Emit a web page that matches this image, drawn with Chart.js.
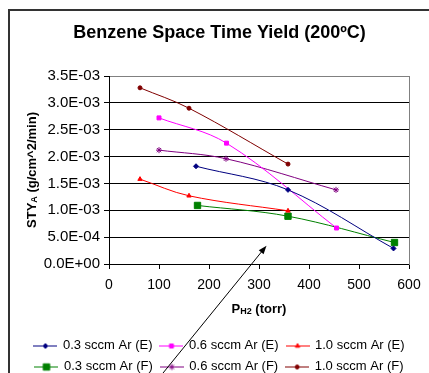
<!DOCTYPE html>
<html>
<head>
<meta charset="utf-8">
<script src="https://cdn.jsdelivr.net/npm/chart.js@4.4.0/dist/chart.umd.min.js"></script>
<style>
  html, body { margin: 0; padding: 0; background: #fff; overflow: hidden; }
</style>
</head>
<body>
<canvas id="chart" width="429" height="373"></canvas>
<script>
// Series labels (legend order)
const seriesLabels = [
    "0.3 sccm Ar (E)", "0.6 sccm Ar (E)", "1.0 sccm Ar (E)",
    "0.3 sccm Ar (F)", "0.6 sccm Ar (F)", "1.0 sccm Ar (F)"
];

// H2 pressure (torr) and space time yield (g/cm^2/min) for each series
const ph2_03E = [174, 358, 569];
const sty_03E = [0.00182, 0.00138, 0.00029];
const ph2_06E = [100, 235, 455];
const sty_06E = [0.00272, 0.00225, 0.00067];
const ph2_10E = [62, 160, 358];
const sty_10E = [0.00158, 0.00127, 0.00099];
const ph2_03F = [177, 358, 571];
const sty_03F = [0.00109, 0.00089, 0.00040];
const ph2_06F = [100, 234, 454];
const sty_06F = [0.00212, 0.00196, 0.00138];
const ph2_10F = [62, 160, 358];
const sty_10F = [0.00328, 0.00290, 0.00186];

// Tick values
const xTicks = [0, 100, 200, 300, 400, 500, 600];
const yTicks = [0, 0.0005, 0.001, 0.0015, 0.002, 0.0025, 0.003, 0.0035];

// Annotation arrow (data units: torr, STY)
const arrowFrom = [108, -0.00203];
const arrowTo = [315, 0.00034];

const FONT = "'Liberation Sans', Arial, sans-serif";

const styles = [
    { color: "#000080", point: "rectRot", radius: 2.5 },
    { color: "#FF00FF", point: "rect", radius: 2.8 },
    { color: "#FF0000", point: "triangle", radius: 2.5 },
    { color: "#008000", point: "rect", radius: 4.5 },
    { color: "#800080", point: "star", radius: 3 },
    { color: "#800000", point: "circle", radius: 2 }
];

const seriesX = [ph2_03E, ph2_06E, ph2_10E, ph2_03F, ph2_06F, ph2_10F];
const seriesY = [sty_03E, sty_06E, sty_10E, sty_03F, sty_06F, sty_10F];

function toPoints(xs, ys) {
    return xs.map((x, i) => ({ x: x, y: ys[i] }));
}

// Excel-like exponent label, e.g. 3.5E-03
function expLabel(v) {
    const parts = Number(v).toExponential(1).split("e");
    const exp = parseInt(parts[1], 10);
    const sign = exp < 0 ? "-" : "+";
    const digits = String(Math.abs(exp)).padStart(2, "0");
    return parts[0] + "E" + sign + digits;
}

// Small line + marker icons for the legend
function legendIcon(style) {
    const c = document.createElement("canvas");
    c.width = 24;
    c.height = 12;
    const g = c.getContext("2d");
    g.strokeStyle = style.color;
    g.fillStyle = style.color;
    g.lineWidth = 1;
    g.beginPath();
    g.moveTo(0, 6.5);
    g.lineTo(24, 6.5);
    g.stroke();
    Chart.helpers.drawPoint(g, {
        pointStyle: style.point,
        radius: style.radius,
        rotation: 0,
        borderWidth: 1
    }, 12, 6.5);
    return c;
}
const legendIcons = styles.map(legendIcon);

const datasets = seriesLabels.map((label, i) => ({
    label: label,
    data: toPoints(seriesX[i], seriesY[i]),
    borderColor: styles[i].color,
    backgroundColor: styles[i].color,
    borderWidth: 1,
    pointStyle: styles[i].point,
    pointRadius: styles[i].radius,
    pointBorderWidth: 1,
    tension: 0.35,
    fill: false
}));

// Outer frame and white background
const framePlugin = {
    id: "frame",
    beforeDraw(chart) {
        const ctx = chart.ctx;
        ctx.save();
        ctx.fillStyle = "#fff";
        ctx.fillRect(0, 0, chart.width, chart.height);
        ctx.strokeStyle = "#333";
        ctx.lineWidth = 2;
        ctx.beginPath();
        ctx.moveTo(9, chart.height + 5);
        ctx.lineTo(9, 10);
        ctx.lineTo(chart.width + 5, 10);
        ctx.stroke();
        ctx.restore();
    }
};

// Draw a run of text parts with different sizes along one baseline
function drawParts(ctx, parts, cx, baseline) {
    let total = 0;
    parts.forEach(p => {
        ctx.font = "bold " + p.size + "px " + FONT;
        p.w = ctx.measureText(p.text).width;
        total += p.w;
    });
    let x = cx - total / 2;
    parts.forEach(p => {
        ctx.font = "bold " + p.size + "px " + FONT;
        ctx.fillText(p.text, x, baseline + (p.sub ? 1 : 0));
        x += p.w;
    });
}

// Axis titles with subscripts, and the annotation arrow
const annotationPlugin = {
    id: "annotations",
    afterDraw(chart) {
        const ctx = chart.ctx;
        const area = chart.chartArea;
        const xs = chart.scales.x;
        const ys = chart.scales.y;
        ctx.save();
        ctx.fillStyle = "#000";
        ctx.textAlign = "left";
        ctx.textBaseline = "alphabetic";

        drawParts(ctx, [
            { text: "P", size: 13 },
            { text: "H2", size: 9, sub: true },
            { text: " (torr)", size: 13 }
        ], (area.left + area.right) / 2, 313);

        ctx.translate(36, (area.top + area.bottom) / 2);
        ctx.rotate(-Math.PI / 2);
        drawParts(ctx, [
            { text: "STY", size: 13 },
            { text: "A", size: 9, sub: true },
            { text: " (g/cm^2/min)", size: 13 }
        ], 0, 0);
        ctx.restore();

        // arrow
        const x0 = xs.getPixelForValue(arrowFrom[0]);
        const y0 = ys.getPixelForValue(arrowFrom[1]);
        const x1 = xs.getPixelForValue(arrowTo[0]);
        const y1 = ys.getPixelForValue(arrowTo[1]);
        const ang = Math.atan2(y1 - y0, x1 - x0);
        const head = 9;
        ctx.save();
        ctx.strokeStyle = "#000";
        ctx.fillStyle = "#000";
        ctx.lineWidth = 1;
        ctx.beginPath();
        ctx.moveTo(x0, y0);
        ctx.lineTo(x1 - Math.cos(ang) * head * 0.8, y1 - Math.sin(ang) * head * 0.8);
        ctx.stroke();
        ctx.beginPath();
        ctx.moveTo(x1, y1);
        ctx.lineTo(x1 - head * Math.cos(ang - 0.35), y1 - head * Math.sin(ang - 0.35));
        ctx.lineTo(x1 - head * Math.cos(ang + 0.35), y1 - head * Math.sin(ang + 0.35));
        ctx.closePath();
        ctx.fill();
        ctx.restore();
    }
};

const ctx = document.getElementById("chart").getContext("2d");
const chart = new Chart(ctx, {
    type: "line",
    data: { datasets: datasets },
    plugins: [framePlugin, annotationPlugin],
    options: {
        responsive: false,
        animation: false,
        layout: { padding: { left: 10, right: 0, top: 0, bottom: -10 } },
        plugins: {
            title: {
                display: true,
                text: "Benzene Space Time Yield (200ºC)",
                color: "#000",
                font: { family: FONT, size: 18, weight: "bold" },
                padding: { top: 22, bottom: 32.4 }
            },
            legend: {
                position: "bottom",
                labels: {
                    color: "#000",
                    font: { family: FONT, size: 13 },
                    usePointStyle: true,
                    pointStyleWidth: 22,
                    padding: 8,
                    generateLabels(chart) {
                        const items = Chart.defaults.plugins.legend.labels.generateLabels(chart);
                        items.forEach((item, i) => { item.pointStyle = legendIcons[i]; });
                        return items;
                    }
                }
            },
            tooltip: { enabled: false }
        },
        scales: {
            x: {
                type: "linear",
                min: 0,
                max: 600,
                afterBuildTicks(scale) {
                    scale.ticks = xTicks.map(v => ({ value: v }));
                },
                afterFit(scale) {
                    scale.height = 119 - scale.chart.legend.height;
                },
                ticks: {
                    color: "#000",
                    font: { family: FONT, size: 14 },
                    padding: 8,
                    maxRotation: 0
                },
                grid: {
                    drawOnChartArea: false,
                    color: "#000",
                    tickColor: "#000",
                    tickLength: 5
                },
                border: { color: "#000", width: 1 }
            },
            y: {
                type: "linear",
                min: 0,
                max: 0.0035,
                afterBuildTicks(scale) {
                    scale.ticks = yTicks.map(v => ({ value: v }));
                },
                afterFit(scale) {
                    scale.width = 99;
                },
                ticks: {
                    color: "#000",
                    font: { family: FONT, size: 15 },
                    padding: 4,
                    callback: v => expLabel(v)
                },
                grid: {
                    color: c => (c.tick && c.tick.value > 0.0034 ? "#808080" : "#000"),
                    tickColor: "#000",
                    tickLength: 5
                },
                border: { color: "#000", width: 1 }
            },
            y2: {
                type: "linear",
                position: "right",
                min: 0,
                max: 1,
                afterFit(scale) {
                    scale.width = 20;
                },
                ticks: { display: false },
                grid: { display: false },
                border: { color: "#808080", width: 1 }
            }
        }
    }
});
</script>
</body>
</html>
